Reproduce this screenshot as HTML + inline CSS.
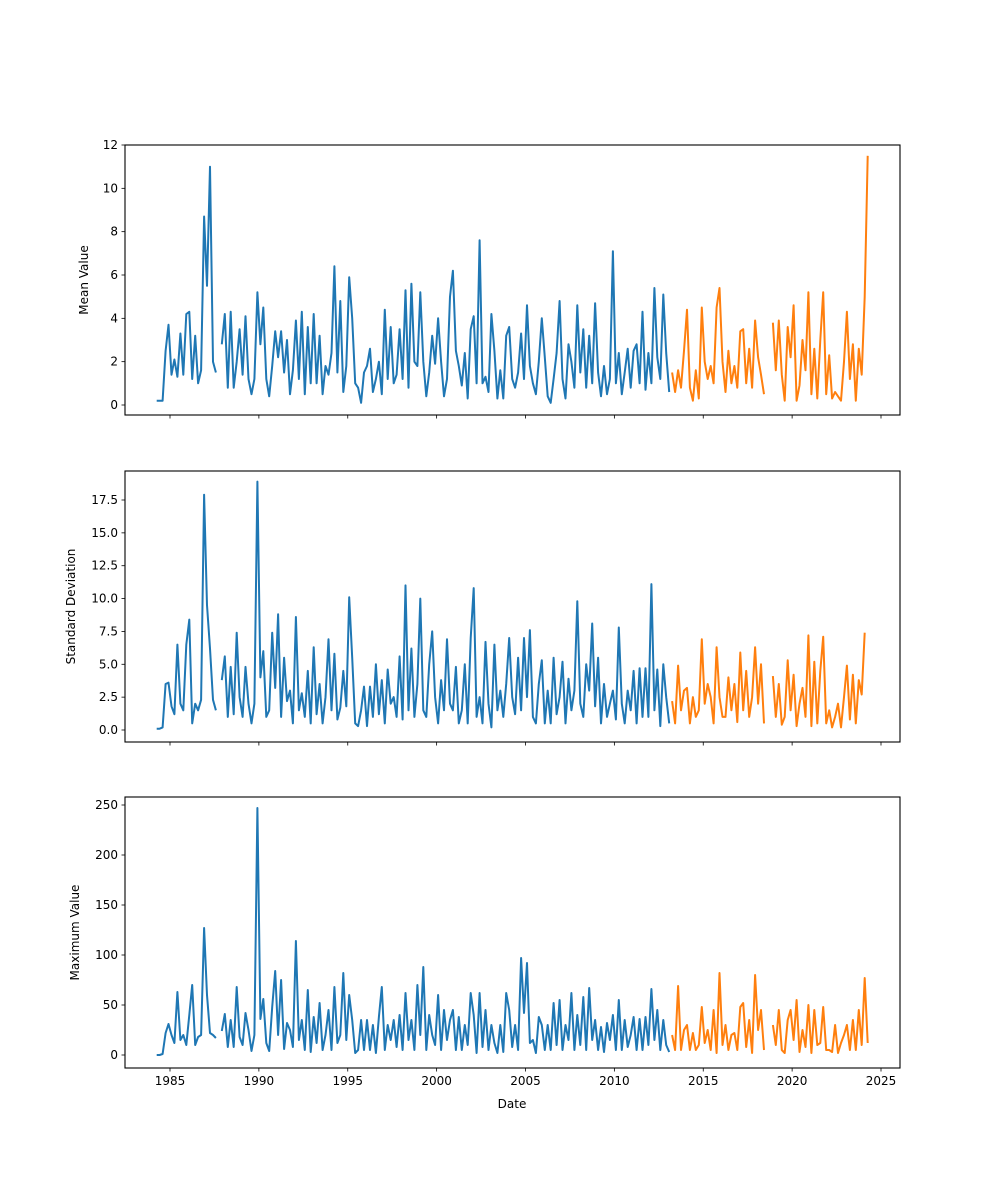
<!DOCTYPE html>
<html><head><meta charset="utf-8"><style>
html,body{margin:0;padding:0;background:#fff;}
svg{display:block;font-family:"DejaVu Sans","Liberation Sans",sans-serif;}
</style></head><body>
<svg id="fig" width="1000" height="1200" viewBox="0 0 1000 1200" xmlns="http://www.w3.org/2000/svg"></svg>
<script>
// step: 1/6 year (two months)
const meanBlueStart = 1984.25;
const meanBlue = [0.2,0.2,0.2,2.5,
3.7,1.4,2.1,1.3,3.3,1.4,
4.2,4.3,1.2,3.2,1.0,1.6,
8.7,5.5,11.0,2.0,1.5,null,
2.8,4.2,0.8,4.3,0.8,2.0,
3.5,1.4,4.1,1.2,0.5,1.2,
5.2,2.8,4.5,1.2,0.4,1.8,
3.4,2.2,3.4,1.5,3.0,0.5,
1.6,3.9,1.2,4.3,0.5,3.6,
1.0,4.2,1.0,3.2,0.5,1.8,
1.4,2.4,6.4,1.5,4.8,0.6,
1.8,5.9,4.0,1.0,0.8,0.1,
1.5,1.8,2.6,0.6,1.2,2.0,
0.5,4.4,1.2,3.6,1.0,1.4,
3.5,1.2,5.3,0.8,5.6,2.0,
1.8,5.2,2.0,0.4,1.5,3.2,
1.9,4.0,2.0,0.4,1.2,5.0,
6.2,2.5,1.8,0.9,2.4,0.3,
3.5,4.1,1.0,7.6,1.0,1.3,
0.6,4.2,2.5,0.3,1.6,0.3,
3.2,3.6,1.2,0.8,1.5,3.3,
1.2,4.6,1.8,1.0,0.5,2.0,
4.0,2.2,0.4,0.1,1.2,2.4,
4.8,1.2,0.3,2.8,2.0,0.8,
4.6,1.5,3.5,0.8,3.2,1.0,
4.7,1.5,0.4,1.8,0.5,1.2,
7.1,1.0,2.4,0.5,1.5,2.6,
0.8,2.5,2.8,1.0,4.3,0.7,
2.4,1.0,5.4,2.2,1.2,5.1,
2.4,0.6];
const meanOrangeStart = 2013.25;
const meanOrange = [1.5,0.6,1.6,0.8,
2.5,4.4,0.8,0.2,1.6,0.3,
4.5,2.0,1.2,1.8,1.0,4.5,
5.4,2.0,0.6,2.5,1.0,1.8,
0.8,3.4,3.5,1.0,2.6,0.8,
3.9,2.2,1.4,0.5,null,null,
3.8,1.6,3.9,1.4,0.2,3.6,
2.2,4.6,0.2,0.9,3.0,1.6,
5.2,0.5,2.6,0.3,3.0,5.2,
0.5,2.3,0.3,0.6,0.4,0.2,
2.0,4.3,1.2,2.8,0.2,2.6,
1.4,5.0,11.5];

const stdBlue = [0.1,0.1,0.2,3.5,
3.6,1.8,1.2,6.5,2.0,1.5,
6.5,8.4,0.5,2.0,1.5,2.3,
17.9,9.5,6.2,2.3,1.5,null,
3.8,5.6,1.0,4.8,1.2,7.4,
2.5,1.0,4.8,2.0,0.5,2.0,
18.9,4.0,6.0,1.0,1.5,7.4,
3.2,8.8,1.0,5.5,2.2,3.0,
0.5,8.6,1.5,2.8,1.0,4.5,
0.5,6.3,1.2,3.5,0.5,2.5,
6.9,1.5,5.8,0.8,1.7,4.5,
1.8,10.1,5.5,0.5,0.3,1.5,
3.3,0.3,3.3,1.0,5.0,1.2,
3.8,0.5,4.6,2.0,2.5,1.0,
5.6,0.8,11.0,1.5,6.2,1.0,
3.5,10.0,1.5,1.0,5.0,7.5,
2.5,0.5,3.8,1.5,6.9,2.0,
1.5,4.8,0.5,1.5,5.0,0.5,
7.0,10.8,1.0,2.5,0.5,6.7,
2.0,0.2,6.5,1.5,3.0,1.0,
3.5,7.0,2.5,1.2,5.5,1.5,
7.0,2.5,7.6,1.0,0.5,3.5,
5.3,0.5,3.0,0.5,5.5,1.2,
2.5,5.2,0.5,3.9,1.5,3.0,
9.8,2.0,1.0,5.0,3.0,8.1,
1.8,5.5,0.5,3.5,1.0,2.0,
3.0,0.8,7.8,2.0,0.5,3.0,
1.5,4.5,0.5,4.7,1.0,4.7,
1.0,11.1,1.5,4.6,0.3,5.0,
2.5,0.5];
const stdOrange = [2.2,0.5,4.9,1.5,
3.0,3.2,0.5,2.5,1.0,1.5,
6.9,2.0,3.5,2.5,0.5,6.3,
2.5,1.0,1.0,4.0,1.5,3.5,
0.6,5.9,1.5,4.5,1.0,2.5,
6.3,2.0,5.0,0.5,null,null,
4.1,1.0,3.5,0.4,1.0,5.3,
1.5,4.2,0.3,2.0,3.2,1.0,
7.2,0.3,5.2,0.5,4.5,7.1,
0.5,1.5,0.2,1.0,2.0,0.2,
2.5,4.9,0.8,4.2,0.5,3.8,
2.7,7.4];

const maxBlue = [0,0,1,22,
31,20,12,63,15,20,
10,40,70,10,18,20,
127,60,22,20,17,null,
24,41,8,35,8,68,
18,10,42,25,4,20,
247,36,56,12,4,48,
84,20,75,6,32,25,
8,114,15,35,5,65,
3,38,12,52,5,20,
45,5,68,12,20,82,
15,60,35,2,5,35,
5,35,5,30,2,38,
68,5,30,15,35,8,
40,5,62,15,35,5,
70,20,88,5,40,20,
10,60,5,45,15,35,
45,5,38,5,30,10,
62,40,2,62,8,45,
5,30,12,2,30,3,
62,45,8,30,5,97,
42,92,12,15,2,38,
30,5,30,5,52,10,
55,5,30,15,62,5,
40,10,58,5,67,15,
35,5,28,3,32,15,
40,5,55,5,35,8,
20,38,5,36,5,38,
10,66,15,45,5,35,
10,3];
const maxOrange = [20,5,69,5,
25,30,5,22,5,10,
48,12,25,5,45,2,
82,10,30,5,20,22,
5,48,52,8,35,2,
80,25,45,5,null,null,
30,10,45,5,2,35,
45,15,55,3,25,8,
50,2,45,10,12,48,
5,5,3,30,2,12,
20,30,5,35,5,45,
10,77,12];

const xTicks = [1985,1990,1995,2000,2005,2010,2015,2020,2025];
const meanTicks = [0,2,4,6,8,10,12];
const stdTicks = [0,2.5,5,7.5,10,12.5,15,17.5];
const maxTicks = [0,50,100,150,200,250];

const NS = "http://www.w3.org/2000/svg";
const svg = document.getElementById('fig');
const L = 125, R = 900;
const xScale = y => 170 + (y - 1985) * (881 - 170) / 40;
function mk(tag, attrs, parent) {
  const e = document.createElementNS(NS, tag);
  for (const k in attrs) e.setAttribute(k, attrs[k]);
  (parent || svg).appendChild(e);
  return e;
}
const panels = [
  {name:'mean', top:145, bot:415, y0:405, pxPer:260/12, ticks:meanTicks, fmt:v=>String(v), label:'Mean Value', b:meanBlue, o:meanOrange, labelX:88},
  {name:'std', top:471, bot:742, y0:730, pxPer:230/17.5, ticks:stdTicks, fmt:v=>v.toFixed(1), label:'Standard Deviation', b:stdBlue, o:stdOrange, labelX:75},
  {name:'max', top:797, bot:1068, y0:1055, pxPer:1.0, ticks:maxTicks, fmt:v=>String(v), label:'Maximum Value', b:maxBlue, o:maxOrange, labelX:79}
];
panels.forEach((p, pi) => {
  const g = mk('g', {});
  
  
  const yS = v => p.y0 - v * p.pxPer;
  const cp = mk('clipPath', {id: 'c' + pi}, g);
  mk('rect', {x: L, y: p.top, width: R - L, height: p.bot - p.top}, cp);
  const lg = mk('g', {'clip-path': 'url(#c' + pi + ')'}, g);
  function ln(arr, start, color, nm) {
    let d = '', pen = false;
    arr.forEach((v, i) => {
      if (v === null) { pen = false; return; }
      const x = xScale(start + i / 6), y = yS(v);
      d += (pen ? 'L' : 'M') + x.toFixed(1) + ' ' + y.toFixed(1);
      pen = true;
    });
    const path = mk('path', {d: d, fill: 'none', stroke: color, 'stroke-width': 2, 'stroke-linejoin': 'round'}, lg);
    
    
  }
  ln(p.b, meanBlueStart, '#1f77b4', p.name + '-series-historical');
  ln(p.o, meanOrangeStart, '#ff7f0e', p.name + '-series-recent');
  const frame = mk('rect', {x: L, y: p.top, width: R - L, height: p.bot - p.top, fill: 'none', stroke: '#000', 'stroke-width': 1.1}, g);
  
  
  p.ticks.forEach(t => {
    const y = yS(t);
    mk('line', {x1: L - 3.5, x2: L, y1: y, y2: y, stroke: '#000', 'stroke-width': 0.8}, g);
    const tx = mk('text', {x: L - 7, y: y + 4, 'font-size': 12, 'text-anchor': 'end', fill: '#000'}, g);
    tx.textContent = p.fmt(t);
    
    
  });
  xTicks.forEach(t => {
    const x = xScale(t);
    mk('line', {x1: x, x2: x, y1: p.bot, y2: p.bot + 3.5, stroke: '#000', 'stroke-width': 0.8}, g);
    if (pi === 2) {
      const tx = mk('text', {x: x, y: p.bot + 17, 'font-size': 12, 'text-anchor': 'middle', fill: '#000'}, g);
      tx.textContent = String(t);
      
      
    }
  });
  const cy = (p.top + p.bot) / 2;
  const yl = mk('text', {x: p.labelX, y: cy, 'font-size': 12, 'text-anchor': 'middle', transform: 'rotate(-90 ' + p.labelX + ' ' + cy + ')', fill: '#000'}, g);
  yl.textContent = p.label;
  
  
});
const xl = mk('text', {x: 512, y: 1108, 'font-size': 12, 'text-anchor': 'middle', fill: '#000'});
xl.textContent = 'Date';


</script>
</body></html>
